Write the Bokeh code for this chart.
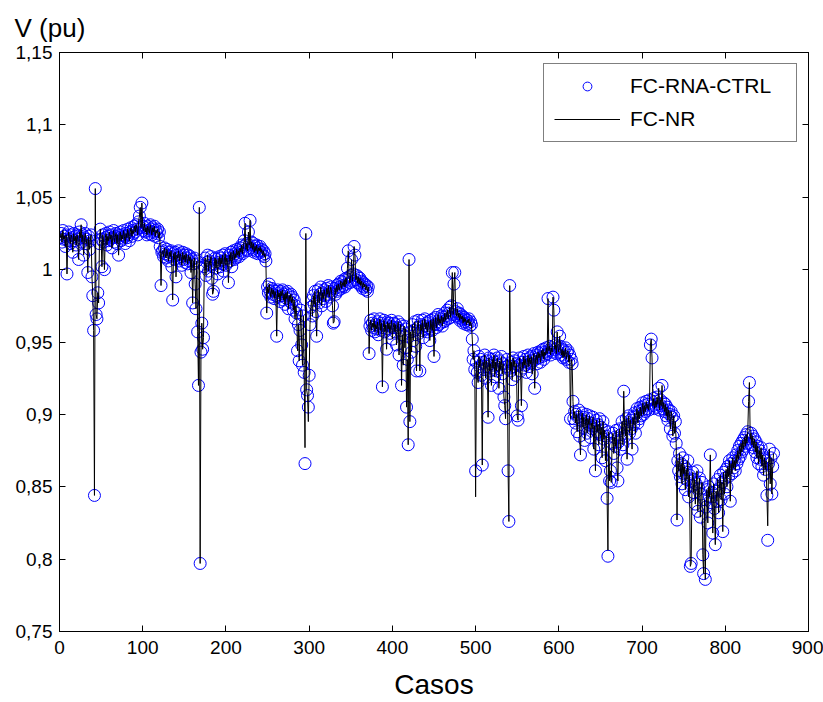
import numpy as np
from bokeh.plotting import figure
from bokeh.models import LinearAxis, FixedTicker, CustomJSTickFormatter
from bokeh.embed import file_html
from bokeh.resources import INLINE

# ---------------- data ----------------
block1 = [
    1.022, 1.025, 1.019, 1.027, 1.021, 1.023, 1.016, 1.024, 0.997, 1.020,
    1.026, 1.021, 1.018, 1.024, 1.022, 1.012, 1.025, 1.020, 1.023, 1.017,
    1.024, 1.021, 1.007, 1.026, 1.022, 1.031, 1.019, 1.024, 1.010, 1.022,
    1.025, 1.018, 1.021, 0.998, 1.023, 1.014, 1.020, 1.024, 0.995, 0.982,
    0.958, 0.844, 1.056, 0.969, 0.966, 0.984, 0.977, 1.018, 1.028, 1.021,
    1.002, 1.024, 1.019, 1.000, 1.022, 1.025, 1.017, 1.023, 1.020, 1.026,
    1.021, 1.024, 1.015, 1.022, 1.027, 1.019, 1.023, 1.025, 1.018, 1.024,
    1.010, 1.022, 1.026, 1.020, 1.024, 1.021, 1.027, 1.023, 1.018, 1.025,
    1.022, 1.028, 1.024, 1.020, 1.026, 1.029, 1.023, 1.027, 1.025, 1.030,
    1.026, 1.031, 1.028, 1.024, 1.033, 1.037, 1.043, 1.029, 1.046, 1.030,
    1.027, 1.032, 1.026, 1.029, 1.024, 1.030, 1.027, 1.025, 1.031, 1.028,
    1.024, 1.029, 1.026, 1.030, 1.023, 1.027, 1.025, 1.028, 1.022, 1.026,
    1.016, 0.989, 1.012,
]
block2 = [
    1.013, 1.009, 1.015, 1.011, 1.008, 1.014, 1.010, 1.006, 1.012, 1.009,
    1.013, 1.002, 0.979, 1.011, 1.007, 1.012, 0.995, 1.010, 1.008, 1.013,
    1.006, 1.011, 1.009, 1.003, 1.012, 1.007, 1.010, 1.005, 1.011, 1.008,
    1.004, 1.010, 1.006, 1.009, 0.998, 1.007, 0.977, 1.004, 1.008, 0.990,
    0.973, 1.006, 0.957, 0.920, 1.043, 0.797, 0.943, 0.963, 0.945, 0.953,
    1.002, 1.008, 0.996, 1.005, 1.010, 0.999, 1.006, 1.003, 1.009, 0.994,
    0.983, 0.985, 1.004, 1.008, 1.001, 1.007, 0.997, 1.005, 1.009, 1.002,
    1.008, 1.004, 1.010, 0.999, 1.006, 1.011, 1.003, 1.008, 1.005, 0.991,
    1.010, 1.006, 1.012, 1.002, 1.009, 1.013, 1.007, 1.011, 1.008, 1.014,
    1.010, 1.013, 1.009, 1.015, 1.012, 1.017, 1.011, 1.016, 1.020, 1.032,
    1.014, 1.018, 1.013, 1.026, 1.017, 1.034, 1.015, 1.019, 1.014, 1.018,
    1.012, 1.016, 1.013, 1.017, 1.011, 1.015, 1.013, 1.016, 1.012, 1.014,
    1.010, 1.013, 1.009, 1.011,
]
block3 = [
    1.006, 0.970, 0.988, 0.984, 0.990, 0.985, 0.981, 0.987, 0.983, 0.986,
    0.980, 0.985, 0.982, 0.954, 0.986, 0.981, 0.984, 0.978, 0.985, 0.982,
    0.986, 0.979, 0.983, 0.976, 0.984, 0.980, 0.985, 0.973, 0.982, 0.978,
    0.983, 0.977, 0.981, 0.972, 0.979, 0.966, 0.975, 0.970, 0.944, 0.962,
    0.937, 0.958, 0.972, 0.948, 0.934, 0.968, 0.929, 0.866, 1.025, 0.917,
    0.913, 0.905, 0.927, 0.962, 0.974, 0.979, 0.968, 0.982, 0.976, 0.985,
    0.971, 0.954, 0.980, 0.986, 0.977, 0.983, 0.988, 0.975, 0.984, 0.980,
    0.986, 0.982, 0.978, 0.987, 0.983, 0.989, 0.981, 0.985, 0.988, 0.984,
    0.975, 0.963, 0.964, 0.987, 0.983, 0.989, 0.985, 0.990, 0.986, 0.988,
    0.992, 0.987, 0.991, 0.989, 0.993, 0.988, 0.994, 0.990, 1.001, 1.013,
    0.995, 0.991, 0.996, 1.007, 0.992, 0.997, 1.016, 1.010, 0.993, 0.996,
    0.991, 0.995, 0.990, 0.994, 0.989, 0.992, 0.987, 0.991, 0.988, 0.990,
    0.986, 0.989, 0.985, 0.988,
]
block4 = [
    0.942, 0.961, 0.965, 0.958, 0.963, 0.960, 0.966, 0.957, 0.962, 0.959,
    0.964, 0.955, 0.961, 0.966, 0.958, 0.963, 0.919, 0.960, 0.965, 0.957,
    0.962, 0.945, 0.964, 0.959, 0.963, 0.956, 0.961, 0.965, 0.952, 0.960,
    0.963, 0.957, 0.962, 0.948, 0.960, 0.964, 0.941, 0.958, 0.962, 0.920,
    0.955, 0.934, 0.961, 0.946, 0.959, 0.905, 0.938, 0.879, 1.007, 0.895,
    0.957, 0.943, 0.962, 0.951, 0.958, 0.964, 0.947, 0.930, 0.960, 0.965,
    0.956, 0.930, 0.962, 0.958, 0.965, 0.953, 0.961, 0.966, 0.959, 0.963,
    0.957, 0.964, 0.960, 0.951, 0.965, 0.961, 0.958, 0.966, 0.940, 0.962,
    0.967, 0.960, 0.964, 0.969, 0.962, 0.966, 0.963, 0.968, 0.961, 0.967,
    0.964, 0.970, 0.965, 0.968, 0.972, 0.966, 0.970, 0.974, 0.967, 0.975,
    0.998, 0.969, 0.990, 0.998, 0.971, 0.968, 0.973, 0.967, 0.970, 0.965,
    0.969, 0.966, 0.968, 0.963, 0.967, 0.964, 0.966, 0.962, 0.965, 0.963,
    0.966, 0.961, 0.964, 0.962,
]
block5 = [
    0.952, 0.938, 0.944, 0.931, 0.861, 0.936, 0.929, 0.922, 0.940, 0.933,
    0.938, 0.927, 0.865, 0.936, 0.931, 0.941, 0.925, 0.937, 0.933, 0.898,
    0.939, 0.930, 0.935, 0.920, 0.938, 0.932, 0.941, 0.926, 0.936, 0.930,
    0.939, 0.934, 0.918, 0.937, 0.931, 0.940, 0.928, 0.935, 0.912, 0.906,
    0.897, 0.933, 0.938, 0.861, 0.826, 0.989, 0.930, 0.936, 0.924, 0.939,
    0.933, 0.937, 0.927, 0.935, 0.899, 0.896, 0.934, 0.939, 0.930, 0.906,
    0.936, 0.932, 0.940, 0.934, 0.938, 0.929, 0.936, 0.941, 0.933, 0.939,
    0.935, 0.940, 0.928, 0.937, 0.942, 0.918, 0.938, 0.941, 0.935, 0.943,
    0.939, 0.942, 0.936, 0.944, 0.940, 0.945, 0.938, 0.943, 0.941, 0.946,
    0.942, 0.980, 0.944, 0.947, 0.941, 0.946, 0.943, 0.981, 0.972, 0.945,
    0.948, 0.942, 0.957, 0.946, 0.943, 0.954, 0.947, 0.941, 0.945, 0.939,
    0.944, 0.940, 0.946, 0.938, 0.943, 0.944, 0.936, 0.941, 0.897, 0.938,
    0.935,
]
block6 = [
    0.909, 0.897, 0.902, 0.894, 0.900, 0.888, 0.898, 0.903, 0.885, 0.872,
    0.896, 0.901, 0.891, 0.898, 0.882, 0.895, 0.900, 0.887, 0.897, 0.893,
    0.899, 0.884, 0.894, 0.890, 0.898, 0.876, 0.892, 0.861, 0.896, 0.888,
    0.893, 0.879, 0.897, 0.886, 0.891, 0.870, 0.895, 0.883, 0.889, 0.868,
    0.885, 0.842, 0.802, 0.888, 0.854, 0.861, 0.853, 0.880, 0.887, 0.873,
    0.884, 0.878, 0.889, 0.863, 0.854, 0.881, 0.890, 0.876, 0.886, 0.895,
    0.879, 0.916, 0.891, 0.885, 0.897, 0.869, 0.893, 0.899, 0.887, 0.896,
    0.890, 0.876, 0.898, 0.893, 0.901, 0.887, 0.899, 0.904, 0.894, 0.902,
    0.897, 0.905, 0.899, 0.903, 0.908, 0.900, 0.906, 0.902, 0.909, 0.904,
    0.907, 0.903, 0.910, 0.948, 0.952, 0.939, 0.906, 0.911, 0.904, 0.909,
    0.905, 0.912, 0.907, 0.918, 0.903, 0.910, 0.906, 0.920, 0.904, 0.908,
    0.902, 0.907, 0.899, 0.905, 0.896, 0.903, 0.900, 0.890, 0.902, 0.898,
    0.885, 0.899, 0.887, 0.895, 0.880,
]
block7 = [
    0.827, 0.868, 0.861, 0.873, 0.857, 0.866, 0.852, 0.870, 0.859, 0.864,
    0.848, 0.862, 0.855, 0.868, 0.843, 0.858, 0.795, 0.797, 0.851, 0.860,
    0.846, 0.855, 0.838, 0.852, 0.861, 0.833, 0.849, 0.856, 0.829, 0.845,
    0.853, 0.803, 0.790, 0.841, 0.786, 0.836, 0.848, 0.825, 0.850, 0.843,
    0.872, 0.839, 0.846, 0.818, 0.852, 0.835, 0.810, 0.847, 0.840, 0.855,
    0.832, 0.849, 0.858, 0.841, 0.853, 0.819, 0.860, 0.845, 0.856, 0.862,
    0.850, 0.864, 0.857, 0.868, 0.840, 0.866, 0.859, 0.870, 0.863, 0.868,
    0.861, 0.872, 0.866, 0.875, 0.869, 0.878, 0.871, 0.880, 0.874, 0.882,
    0.876, 0.884, 0.878, 0.886, 0.880, 0.888, 0.909, 0.922, 0.883, 0.887,
    0.879, 0.885, 0.877, 0.883, 0.874, 0.881, 0.870, 0.878, 0.866, 0.875,
    0.869, 0.877, 0.864, 0.872, 0.858, 0.870, 0.862, 0.868, 0.844, 0.813,
    0.866, 0.876, 0.852, 0.870, 0.845, 0.864, 0.873,
]

# cases where the FC-NR line differs from the FC-RNA-CTRL circles
nr_fix_cases = [295, 299, 500, 659, 851]
nr_fix_values = [0.877, 0.895, 0.843, 0.806, 0.823]

x_ticks = [0, 100, 200, 300, 400, 500, 600, 700, 800, 900]
y_ticks = [0.75, 0.8, 0.85, 0.9, 0.95, 1.0, 1.05, 1.1, 1.15]

series_names = ["FC-RNA-CTRL", "FC-NR"]
x_title = "Casos"
y_title = "V (pu)"

# ---------------- build ----------------
v_rna = np.array(block1 + block2 + block3 + block4 + block5 + block6 + block7)
cases = np.arange(1, len(v_rna) + 1)
v_nr = v_rna.copy()
for c, v in zip(nr_fix_cases, nr_fix_values):
    v_nr[c - 1] = v

FONT = "Liberation Sans"

p = figure(width=823, height=702, x_range=(0, 900), y_range=(0.75, 1.15),
           output_backend="svg", toolbar_location=None,
           min_border_left=59, min_border_right=15,
           min_border_top=52, min_border_bottom=68,
           title=y_title)
p.background_fill_color = "white"
p.border_fill_color = "white"
p.grid.visible = False
p.outline_line_color = "black"
p.outline_line_width = 1

p.title.align = "left"
p.title.offset = -45
p.title.text_font = FONT
p.title.text_font_size = "26px"
p.title.text_font_style = "normal"
p.title.text_color = "black"
try:
    p.title.standoff = 20
except AttributeError:
    pass

p.scatter(cases, v_rna, marker="circle", size=12, fill_color=None,
          line_color="#0000ff", line_width=1, legend_label=series_names[0])
p.line(cases, v_nr, line_color="black", line_width=1, legend_label=series_names[1])

yfmt = CustomJSTickFormatter(code="""
let s = tick.toFixed(2);
s = s.replace(/0+$/, '').replace(/\\.$/, '');
return s.replace('.', ',');
""")

xa = p.xaxis[0]
ya = p.yaxis[0]
xa.ticker = FixedTicker(ticks=x_ticks)
ya.ticker = FixedTicker(ticks=y_ticks)
ya.formatter = yfmt
for ax in (xa, ya):
    ax.major_tick_in = 6
    ax.major_tick_out = 0
    ax.minor_tick_line_color = None
    ax.axis_line_color = "black"
    ax.major_tick_line_color = "black"
    ax.major_label_text_color = "black"
    ax.major_label_text_font = FONT
    ax.major_label_text_font_size = "19px"
xa.major_label_standoff = 9
ya.major_label_standoff = 7
xa.axis_label = x_title
xa.axis_label_text_font = FONT
xa.axis_label_text_font_size = "28px"
xa.axis_label_text_font_style = "normal"
xa.axis_label_text_color = "black"
xa.axis_label_standoff = 12

empty = CustomJSTickFormatter(code="return '';")
right = LinearAxis(ticker=FixedTicker(ticks=y_ticks), formatter=empty,
                   major_tick_in=6, major_tick_out=0, minor_tick_line_color=None,
                   axis_line_color="black", major_tick_line_color="black",
                   major_label_standoff=0, major_label_text_font_size="1px")
top = LinearAxis(ticker=FixedTicker(ticks=x_ticks), formatter=empty,
                 major_tick_in=6, major_tick_out=0, minor_tick_line_color=None,
                 axis_line_color="black", major_tick_line_color="black",
                 major_label_standoff=0, major_label_text_font_size="1px")
p.add_layout(right, "right")
p.add_layout(top, "above")

lg = p.legend[0]
lg.location = "top_right"
lg.margin = 11
lg.padding = 10
lg.spacing = 9
lg.label_height = 22
lg.glyph_height = 22
lg.glyph_width = 66
lg.label_width = 156
lg.label_standoff = 10
lg.label_text_font = FONT
lg.label_text_font_size = "21px"
lg.label_text_color = "black"
lg.border_line_color = "black"
lg.border_line_width = 1
lg.background_fill_color = "white"
lg.background_fill_alpha = 1.0

open("out.html", "w").write(file_html(p, INLINE))
